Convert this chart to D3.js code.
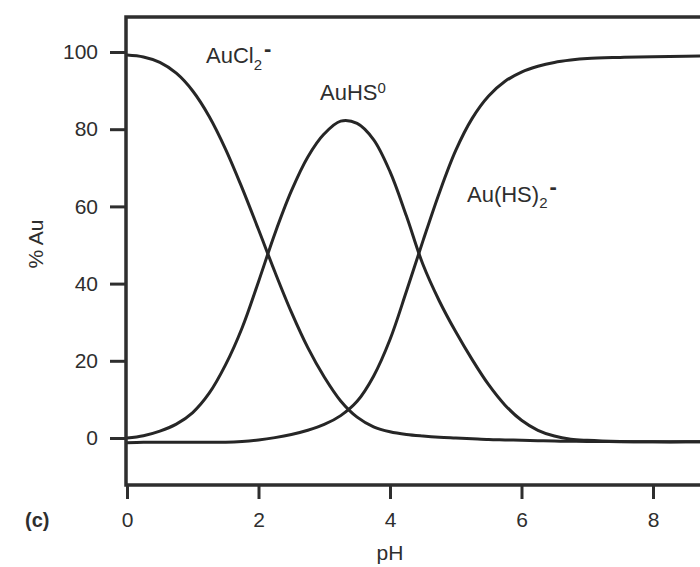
<!DOCTYPE html>
<html>
<head>
<meta charset="utf-8">
<script src="https://cdn.jsdelivr.net/npm/d3@7"></script>
<style>
  html, body { margin: 0; padding: 0; background: #fff; }
  svg { display: block; font-family: "Liberation Sans", Arial, Helvetica, sans-serif; }
</style>
</head>
<body>
<svg id="chart" width="700" height="567"></svg>
<script>
// ---- data ----
const pH = [0, 0.25, 0.5, 0.75, 1, 1.25, 1.5, 1.75, 2, 2.25, 2.5, 2.75, 3, 3.25, 3.5, 3.75,
            4, 4.25, 4.5, 4.75, 5, 5.25, 5.5, 5.75, 6, 6.25, 6.5, 6.75, 7, 7.5, 8, 8.5, 9, 9.5, 10];
const auCl2 = [99.2, 98.7, 97.3, 94.5, 89.9, 83.3, 74.8, 64.8, 54.0, 43.0, 32.6, 23.4, 15.8, 9.6, 5.4, 2.9,
               1.6, 0.9, 0.5, 0.2, 0, -0.2, -0.4, -0.5, -0.6, -0.7, -0.8, -0.85, -0.9, -0.95, -1, -1, -1, -1, -1];
const auHS = [0, 0.6, 1.8, 3.6, 6.6, 11.6, 19, 28.5, 40.5, 53, 64, 72.8, 78.8, 82.1, 81.5, 77.3,
              69, 57.5, 45, 35.5, 27.5, 20.3, 13.8, 8.5, 4.6, 2.0, 0.5, -0.3, -0.6, -0.9, -1, -1, -1, -1, -1];
const auHS2 = [-1.2, -1.1, -1.1, -1.1, -1.1, -1.1, -1.1, -0.9, -0.5, 0.1, 0.9, 2.0, 3.5, 5.8, 9.5, 16.0,
               25.5, 38, 51, 63.5, 74.5, 82.8, 88.6, 92.4, 94.8, 96.3, 97.3, 97.9, 98.3, 98.6, 98.8, 98.9, 99, 99, 99];
const xTicks = [0, 2, 4, 6, 8];
const yTicks = [0, 20, 40, 60, 80, 100];

// ---- layout ----
const svg = d3.select("#chart");
const W = 700;
const x = d3.scaleLinear().domain([0, 10]).range([127, 784.5]);
const y = d3.scaleLinear().domain([0, 100]).range([438, 52]);
const frameLeft = 126, frameTop = 17, frameBottom = 485;
const ink = "#2e2e2e";

// curves
const line = d3.line().x(d => x(d[0])).y(d => y(d[1])).curve(d3.curveCatmullRom.alpha(0.5));
[auCl2, auHS, auHS2].forEach(series => {
  svg.append("path")
    .datum(pH.map((p, i) => [p, series[i]]))
    .attr("d", line)
    .attr("fill", "none")
    .attr("stroke", "#262626")
    .attr("stroke-width", 3)
    .attr("stroke-linejoin", "round");
});

// frame
svg.append("path")
  .attr("d", `M${W + 5},${frameTop}H${frameLeft}V${frameBottom}H${W + 5}`)
  .attr("fill", "none")
  .attr("stroke", ink)
  .attr("stroke-width", 3.5);

// y axis
const gy = svg.append("g")
  .attr("transform", `translate(${frameLeft},0)`)
  .call(d3.axisLeft(y).tickValues(yTicks).tickSize(16).tickPadding(12));
gy.select(".domain").remove();
gy.selectAll(".tick line").attr("stroke", ink).attr("stroke-width", 3);
gy.selectAll(".tick text").attr("fill", ink).attr("font-size", 21)
  .attr("font-family", "Liberation Sans, Arial, sans-serif");

// x axis
const gx = svg.append("g")
  .attr("transform", `translate(0,${frameBottom})`)
  .call(d3.axisBottom(x).tickValues(xTicks).tickSize(14).tickPadding(13));
gx.select(".domain").remove();
gx.selectAll(".tick line").attr("stroke", ink).attr("stroke-width", 3);
gx.selectAll(".tick text").attr("fill", ink).attr("font-size", 21)
  .attr("font-family", "Liberation Sans, Arial, sans-serif");

// axis titles
svg.append("text")
  .attr("transform", "translate(43,244) rotate(-90)")
  .attr("text-anchor", "middle")
  .attr("font-size", 21).attr("fill", ink)
  .text("% Au");
svg.append("text")
  .attr("x", x(4)).attr("y", 560)
  .attr("text-anchor", "middle")
  .attr("font-size", 21).attr("fill", ink)
  .text("pH");
svg.append("text")
  .attr("x", 25).attr("y", 527)
  .attr("font-size", 20).attr("font-weight", "bold").attr("fill", ink)
  .text("(c)");

// species labels
const t1 = svg.append("text").attr("x", 206).attr("y", 63).attr("font-size", 22).attr("fill", ink);
t1.append("tspan").text("AuCl");
t1.append("tspan").attr("dy", 7).attr("font-size", 15).text("2");
t1.append("tspan").attr("dy", -14).attr("dx", 2).attr("font-weight", "bold").text("-");

const t2 = svg.append("text").attr("x", 320).attr("y", 100).attr("font-size", 22).attr("fill", ink);
t2.append("tspan").text("AuHS");
t2.append("tspan").attr("dy", -7).attr("font-size", 15).text("0");

const t3 = svg.append("text").attr("x", 467).attr("y", 202).attr("font-size", 22).attr("fill", ink);
t3.append("tspan").text("Au(HS)");
t3.append("tspan").attr("dy", 6).attr("font-size", 15).text("2");
t3.append("tspan").attr("dy", -14).attr("dx", 2).attr("font-weight", "bold").text("-");
</script>
</body>
</html>
